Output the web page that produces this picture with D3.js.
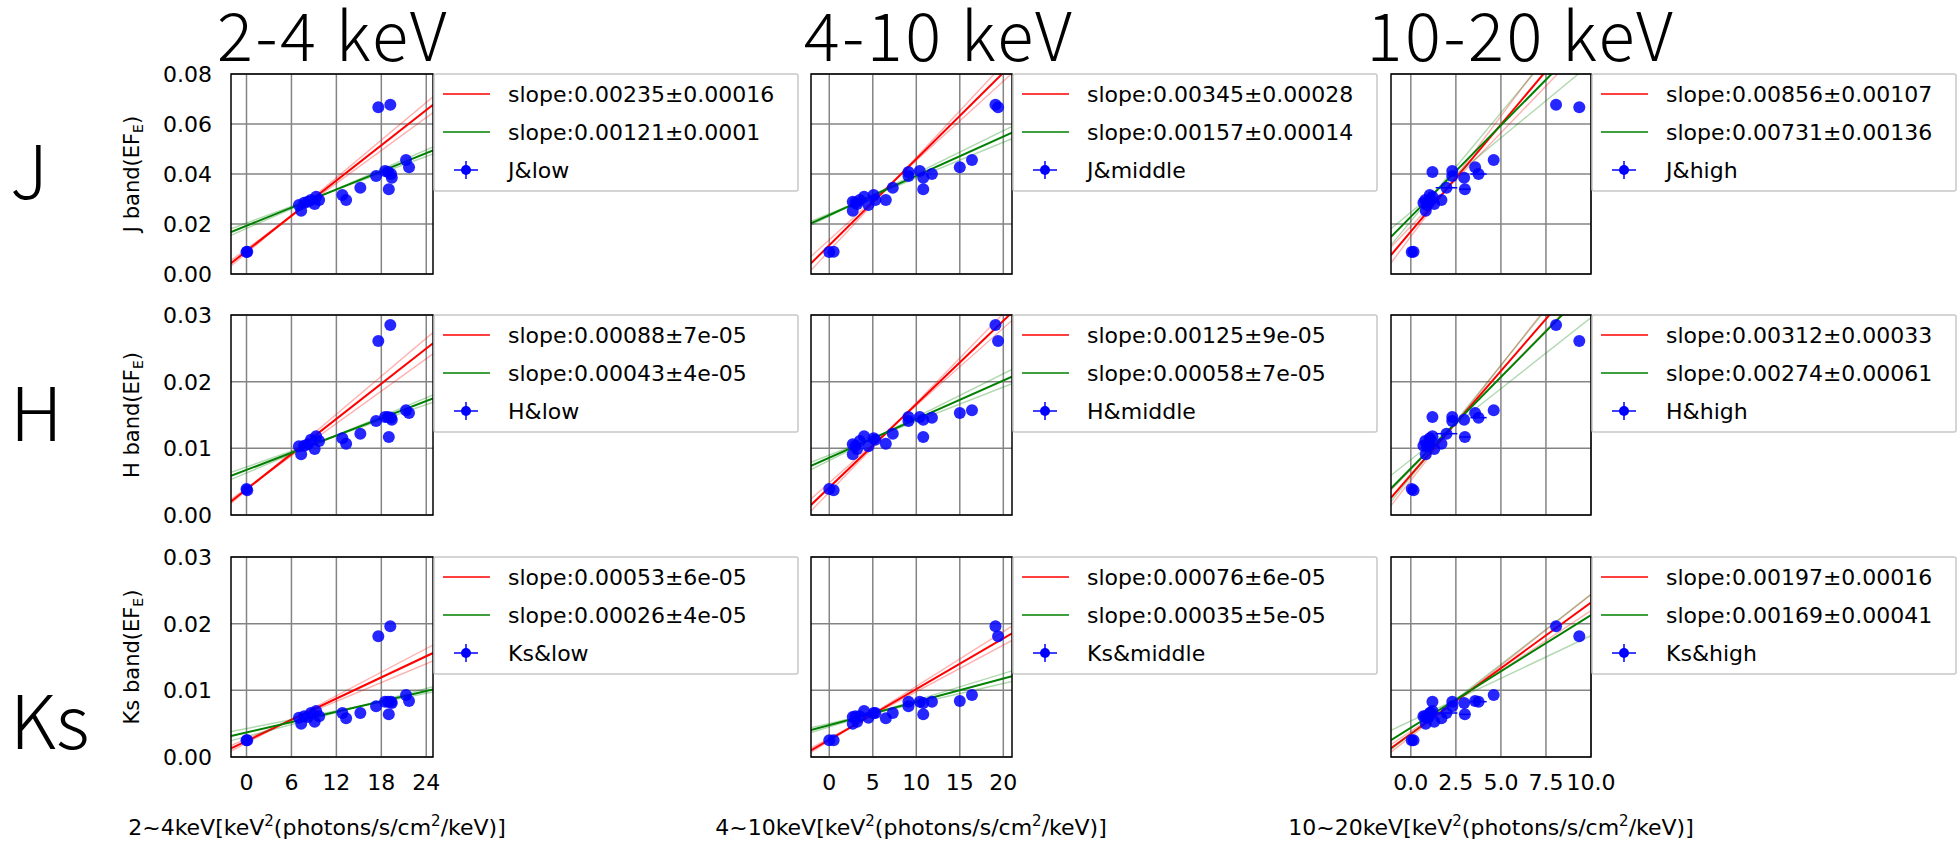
<!DOCTYPE html>
<html>
<head>
<meta charset="utf-8">
<script src="https://cdn.jsdelivr.net/npm/d3@7"></script>
<style>
body { margin: 0; background: #fff; }
svg text { font-family: "DejaVu Sans", sans-serif; fill: #000; }
svg text.big { font-family: "Noto Sans CJK JP", "Noto Sans", sans-serif; font-weight: 300; }
</style>
</head>
<body>
<svg id="chart" width="1958" height="845"></svg>
<script>
// rows = NIR band, columns = X-ray band
var bands = ["J", "H", "Ks"];
var energies = ["low", "middle", "high"];
var colTitles = ["2-4 keV", "4-10 keV", "10-20 keV"];
var xLabelNames = ["2~4keV", "4~10keV", "10~20keV"];
var xTicks = [[0, 6, 12, 18, 24], [0, 5, 10, 15, 20], [0, 2.5, 5, 7.5, 10]];
var xDomains = [[-2.07, 24.9], [-2.1, 21.0], [-1.1, 10.0]];
var yTicks = [[0, 0.02, 0.04, 0.06, 0.08], [0, 0.01, 0.02, 0.03], [0, 0.01, 0.02, 0.03]];
var yDomains = [[0, 0.08], [0, 0.03], [0, 0.03]];

// one entry per observation, same order in every array
var xLow   = [0.0, 0.1, 17.6, 19.2, 7.0, 7.3, 7.7, 8.2, 8.6, 9.1, 9.3, 9.7, 12.8, 13.3, 15.2, 17.3, 18.5, 19.3, 19.4, 19.0, 21.3, 21.7, 18.9];
var xMid   = [0.0, 0.5, 19.4, 19.1, 4.5, 2.7, 3.0, 2.7, 5.3, 3.2, 4.0, 3.5, 5.1, 6.5, 7.3, 9.1, 10.4, 11.8, 10.8, 10.8, 16.4, 15.0, 9.1];
var xHigh  = [0.05, 0.15, 9.35, 8.06, 0.9, 0.83, 0.7, 1.0, 1.1, 1.3, 1.2, 0.8, 1.05, 1.7, 1.98, 2.3, 2.3, 3.76, 2.96, 3.0, 4.6, 3.57, 1.2];
var xErrHigh = [0, 0, 0, 0, 0, 0, 0, 0, 0, 0, 0, 0, 0, 0, 0.6, 0, 0, 0.45, 0, 0.3, 0, 0, 0];
var fluxJ  = [0.0088, 0.0089, 0.0667, 0.0677, 0.0276, 0.0253, 0.0285, 0.0289, 0.0296, 0.0280, 0.0309, 0.0296, 0.0316, 0.0296, 0.0345, 0.0392, 0.0412, 0.0400, 0.0385, 0.0339, 0.0456, 0.0427, 0.0408];
var fluxH  = [0.0039, 0.0037, 0.0261, 0.0285, 0.0103, 0.0091, 0.0104, 0.0106, 0.0113, 0.0099, 0.0118, 0.0111, 0.0115, 0.0107, 0.0122, 0.0141, 0.0147, 0.0146, 0.0143, 0.0117, 0.0157, 0.0153, 0.0147];
var fluxKs = [0.0025, 0.0025, 0.0181, 0.0196, 0.0059, 0.0050, 0.0061, 0.0060, 0.0066, 0.0053, 0.0069, 0.0061, 0.0066, 0.0058, 0.0066, 0.0076, 0.0083, 0.0083, 0.0081, 0.0064, 0.0093, 0.0084, 0.0083];

// linear fits [band][energy]
var redSlope        = [[0.00235, 0.00345, 0.00856], [0.00088, 0.00125, 0.00312], [0.00053, 0.00076, 0.00197]];
var redSlopeErr     = [[0.00016, 0.00028, 0.00107], [0.00007, 0.00009, 0.00033], [0.00006, 0.00006, 0.00016]];
var redIntercept    = [[0.0092, 0.0115, 0.0170], [0.00386, 0.00413, 0.0060], [0.0024, 0.0026, 0.00347]];
var redInterceptErr = [[0.0008, 0.0022, 0.0020], [0.00015, 0.0007, 0.0008], [0.0003, 0.0002, 0.0004]];
var greenSlope        = [[0.00121, 0.00157, 0.00731], [0.00043, 0.00058, 0.00274], [0.00026, 0.00035, 0.00169]];
var greenSlopeErr     = [[0.0001, 0.00014, 0.00136], [0.00004, 0.00007, 0.00061], [0.00004, 0.00005, 0.00041]];
var greenIntercept    = [[0.0193, 0.0236, 0.0229], [0.00676, 0.00858, 0.0070], [0.00367, 0.00477, 0.0044]];
var greenInterceptErr = [[0.0011, 0.0005, 0.0018], [0.00045, 0.0004, 0.0013], [0.0006, 0.00025, 0.0010]];

var xData = [xLow, xMid, xHigh];
var xErr = [null, null, xErrHigh];
var yData = [fluxJ, fluxH, fluxKs];

var colLeft = [231, 811, 1391], colWidth = [202, 201, 200];
var rowTop = [74, 315, 557], rowHeight = 200;
var titleX = [333, 939, 1521];
var xLabelX = [317, 911, 1491];
var rowLabelY = [199, 441, 749];

// python-style str() of a float, e.g. 7e-05
function pyStr(v) {
    if (v !== 0 && Math.abs(v) < 1e-4) {
        return v.toExponential().replace(/e([+-])(\d)$/, "e$10$2");
    }
    return String(v);
}

var svg = d3.select("#chart");
var defs = svg.append("defs");

bands.forEach(function(band, r) {
    energies.forEach(function(en, c) {
        var x = d3.scaleLinear().domain(xDomains[c]).range([colLeft[c], colLeft[c] + colWidth[c]]);
        var y = d3.scaleLinear().domain(yDomains[r]).range([rowTop[r] + rowHeight, rowTop[r]]);
        var clipId = "clip-" + r + "-" + c;
        defs.append("clipPath").attr("id", clipId).append("rect")
            .attr("x", colLeft[c]).attr("y", rowTop[r]).attr("width", colWidth[c]).attr("height", rowHeight);

        var g = svg.append("g");

        // grid
        g.selectAll(".gx").data(xTicks[c]).join("line")
            .attr("x1", d => x(d)).attr("x2", d => x(d))
            .attr("y1", rowTop[r]).attr("y2", rowTop[r] + rowHeight)
            .attr("stroke", "#848484").attr("stroke-width", 1.5);
        g.selectAll(".gy").data(yTicks[r]).join("line")
            .attr("x1", colLeft[c]).attr("x2", colLeft[c] + colWidth[c])
            .attr("y1", d => y(d)).attr("y2", d => y(d))
            .attr("stroke", "#848484").attr("stroke-width", 1.5);

        // fit lines, with the +/- 1 sigma lines
        var fits = [
            {color: "#ff0000", m: redSlope[r][c], dm: redSlopeErr[r][c], b: redIntercept[r][c], db: redInterceptErr[r][c]},
            {color: "#008000", m: greenSlope[r][c], dm: greenSlopeErr[r][c], b: greenIntercept[r][c], db: greenInterceptErr[r][c]}
        ];
        var lg = g.append("g").attr("clip-path", "url(#" + clipId + ")");
        fits.forEach(function(f) {
            var variants = [
                {m: f.m + f.dm, b: f.b - f.db, op: 0.3, w: 1.4},
                {m: f.m - f.dm, b: f.b + f.db, op: 0.3, w: 1.4},
                {m: f.m, b: f.b, op: 1, w: 2}
            ];
            variants.forEach(function(v) {
                var x0 = xDomains[c][0], x1 = xDomains[c][1];
                lg.append("line")
                    .attr("x1", x(x0)).attr("y1", y(v.m * x0 + v.b))
                    .attr("x2", x(x1)).attr("y2", y(v.m * x1 + v.b))
                    .attr("stroke", f.color).attr("stroke-width", v.w).attr("opacity", v.op);
            });
        });

        // data points
        var pts = xData[c].map((xv, i) => ({x: xv, y: yData[r][i], xe: xErr[c] ? xErr[c][i] : 0}));
        var pg = g.append("g").attr("clip-path", "url(#" + clipId + ")");
        pg.selectAll(".eb").data(pts.filter(d => d.xe > 0)).join("line")
            .attr("x1", d => x(d.x - d.xe)).attr("x2", d => x(d.x + d.xe))
            .attr("y1", d => y(d.y)).attr("y2", d => y(d.y))
            .attr("stroke", "#0000ff").attr("stroke-width", 1.5);
        pg.selectAll("circle").data(pts).join("circle")
            .attr("cx", d => x(d.x)).attr("cy", d => y(d.y)).attr("r", 6)
            .attr("fill", "#0000ff").attr("opacity", 0.85);

        // frame
        g.append("rect").attr("x", colLeft[c]).attr("y", rowTop[r])
            .attr("width", colWidth[c]).attr("height", rowHeight)
            .attr("fill", "none").attr("stroke", "#000").attr("stroke-width", 1.5);

        // y tick labels only on the left column
        if (c === 0) {
            g.selectAll(".yt").data(yTicks[r]).join("text")
                .attr("x", colLeft[c] - 19).attr("y", d => y(d) + 8)
                .attr("text-anchor", "end").attr("font-size", 22)
                .text(d => d3.format(".2f")(d));
            var yl = g.append("text")
                .attr("transform", "translate(139," + (rowTop[r] + rowHeight / 2) + ") rotate(-90)")
                .attr("text-anchor", "middle").attr("font-size", 21);
            yl.append("tspan").text(band + " band(EF");
            yl.append("tspan").attr("font-size", 14).attr("dy", 4).text("E");
            yl.append("tspan").attr("dy", -4).text(")");
        }
        // x tick labels and axis label only on the bottom row
        if (r === bands.length - 1) {
            var fmt = c === 2 ? d3.format(".1f") : d3.format("d");
            g.selectAll(".xt").data(xTicks[c]).join("text")
                .attr("x", d => x(d)).attr("y", 790)
                .attr("text-anchor", "middle").attr("font-size", 22)
                .text(d => fmt(d));
            var t = g.append("text").attr("x", xLabelX[c]).attr("y", 835)
                .attr("text-anchor", "middle").attr("font-size", 22);
            t.append("tspan").text(xLabelNames[c] + "[keV");
            t.append("tspan").attr("font-size", 15).attr("dy", -9).text("2");
            t.append("tspan").attr("dy", 9).text("(photons/s/cm");
            t.append("tspan").attr("font-size", 15).attr("dy", -9).text("2");
            t.append("tspan").attr("dy", 9).text("/keV)]");
        }

        // legend
        var lx = colLeft[c] + colWidth[c] + 1, ly = rowTop[r];
        var leg = g.append("g");
        leg.append("rect").attr("x", lx).attr("y", ly).attr("width", 364).attr("height", 117)
            .attr("rx", 2).attr("fill", "#fff").attr("stroke", "#c8c8c8").attr("stroke-width", 1.5);
        var entries = [
            {color: "#ff0000", text: "slope:" + pyStr(redSlope[r][c]) + "\u00b1" + pyStr(redSlopeErr[r][c])},
            {color: "#008000", text: "slope:" + pyStr(greenSlope[r][c]) + "\u00b1" + pyStr(greenSlopeErr[r][c])},
            {color: "#0000ff", text: band + "&" + en, marker: true}
        ];
        entries.forEach(function(e, i) {
            var ey = ly + 20 + i * 38;
            if (e.marker) {
                leg.append("line").attr("x1", lx + 20).attr("x2", lx + 44).attr("y1", ey).attr("y2", ey)
                    .attr("stroke", e.color).attr("stroke-width", 1.5);
                leg.append("line").attr("x1", lx + 32).attr("x2", lx + 32).attr("y1", ey - 9).attr("y2", ey + 9)
                    .attr("stroke", e.color).attr("stroke-width", 1.5);
                leg.append("circle").attr("cx", lx + 32).attr("cy", ey).attr("r", 5).attr("fill", e.color);
            } else {
                leg.append("line").attr("x1", lx + 9).attr("x2", lx + 56).attr("y1", ey).attr("y2", ey)
                    .attr("stroke", e.color).attr("stroke-width", 1.5);
            }
            leg.append("text").attr("x", lx + 74).attr("y", ey + 8).attr("font-size", 22).text(e.text);
        });
    });
});

// column titles
svg.selectAll(".title").data(colTitles).join("text")
    .attr("class", "big").attr("x", (d, i) => titleX[i]).attr("y", 61)
    .attr("text-anchor", "middle").attr("font-size", 67).attr("letter-spacing", 2.5).text(d => d);

// row labels
svg.selectAll(".rowlab").data(bands).join("text")
    .attr("class", "big").attr("x", 10).attr("y", (d, i) => rowLabelY[i])
    .attr("font-size", 74).text(d => d);
</script>
</body>
</html>
